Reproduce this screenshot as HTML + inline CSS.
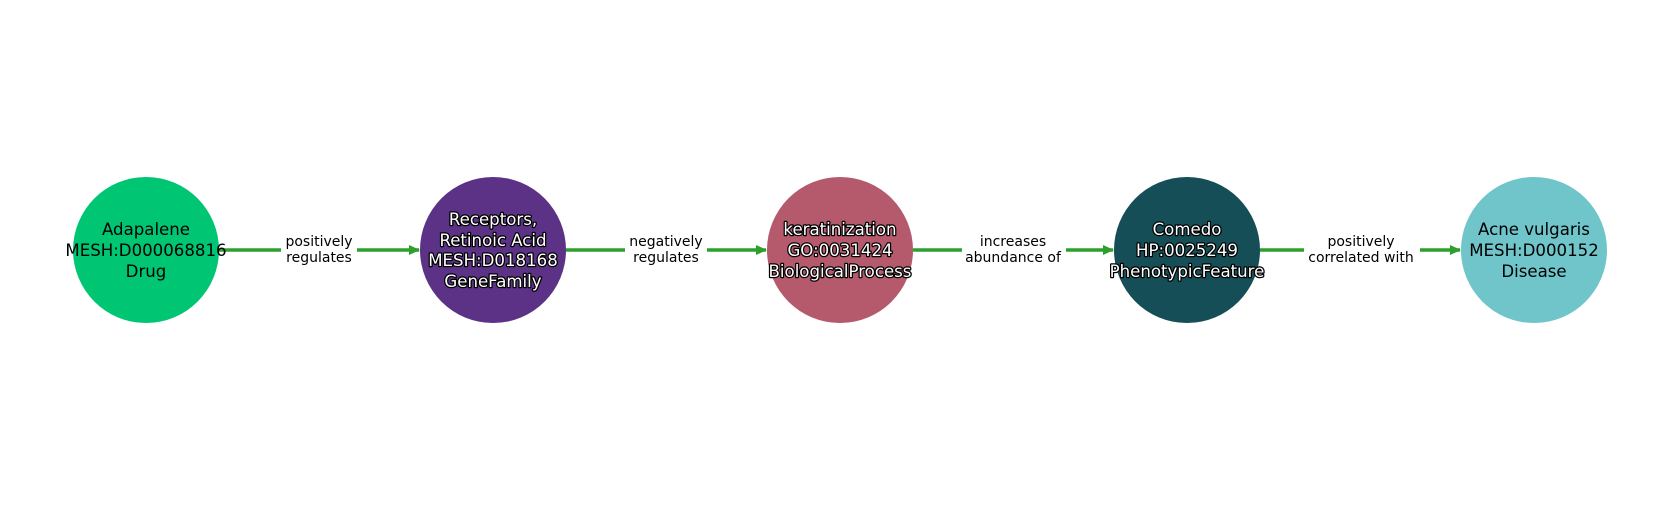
<!DOCTYPE html>
<html><head><meta charset="utf-8"><style>html,body{margin:0;padding:0;background:#fff}</style></head>
<body>
<svg width="1680" height="500" xmlns="http://www.w3.org/2000/svg" font-family="'DejaVu Sans','Liberation Sans',sans-serif">
<defs><marker id="a" markerWidth="12" markerHeight="12" refX="10" refY="6" orient="auto" markerUnits="userSpaceOnUse"><path d="M0,1 L11,6 L0,11 z" fill="#2ca02c"/></marker></defs>
<g stroke="#2ca02c" stroke-width="3.5" marker-end="url(#a)">
<line x1="219" y1="250" x2="419" y2="250"/>
<line x1="566" y1="250" x2="766" y2="250"/>
<line x1="913" y1="250" x2="1113" y2="250"/>
<line x1="1260" y1="250" x2="1460" y2="250"/>
</g>
<g fill="#fff">
<rect x="281" y="232" width="76" height="36"/>
<rect x="625" y="232" width="82" height="36"/>
<rect x="962" y="232" width="104" height="36"/>
<rect x="1304" y="232" width="116" height="36"/>
</g>
<g font-size="14" text-anchor="middle" fill="#000">
<text x="319" y="246">positively</text><text x="319" y="262">regulates</text>
<text x="666" y="246">negatively</text><text x="666" y="262">regulates</text>
<text x="1013" y="246">increases</text><text x="1013" y="262">abundance of</text>
<text x="1361" y="246">positively</text><text x="1361" y="262">correlated with</text>
</g>
<circle cx="146" cy="250" r="73" fill="#00c573"/>
<circle cx="493" cy="250" r="73" fill="#5b3285"/>
<circle cx="840" cy="250" r="73" fill="#b5596c"/>
<circle cx="1187" cy="250" r="73" fill="#154e56"/>
<circle cx="1534" cy="250" r="73" fill="#70c5ca"/>
<g font-size="16.6" text-anchor="middle">
<g fill="#000">
<text x="146" y="235">Adapalene</text><text x="146" y="256">MESH:D000068816</text><text x="146" y="277">Drug</text>
<text x="1534" y="235">Acne vulgaris</text><text x="1534" y="256">MESH:D000152</text><text x="1534" y="277">Disease</text>
</g>
<g fill="#fff" stroke="#000" stroke-width="2.5" paint-order="stroke" stroke-linejoin="round">
<text x="493" y="225">Receptors,</text><text x="493" y="246">Retinoic Acid</text><text x="493" y="266">MESH:D018168</text><text x="493" y="287">GeneFamily</text>
<text x="840" y="235">keratinization</text><text x="840" y="256">GO:0031424</text><text x="840" y="277">BiologicalProcess</text>
<text x="1187" y="235">Comedo</text><text x="1187" y="256">HP:0025249</text><text x="1187" y="277">PhenotypicFeature</text>
</g>
</g>
</svg>
</body></html>
